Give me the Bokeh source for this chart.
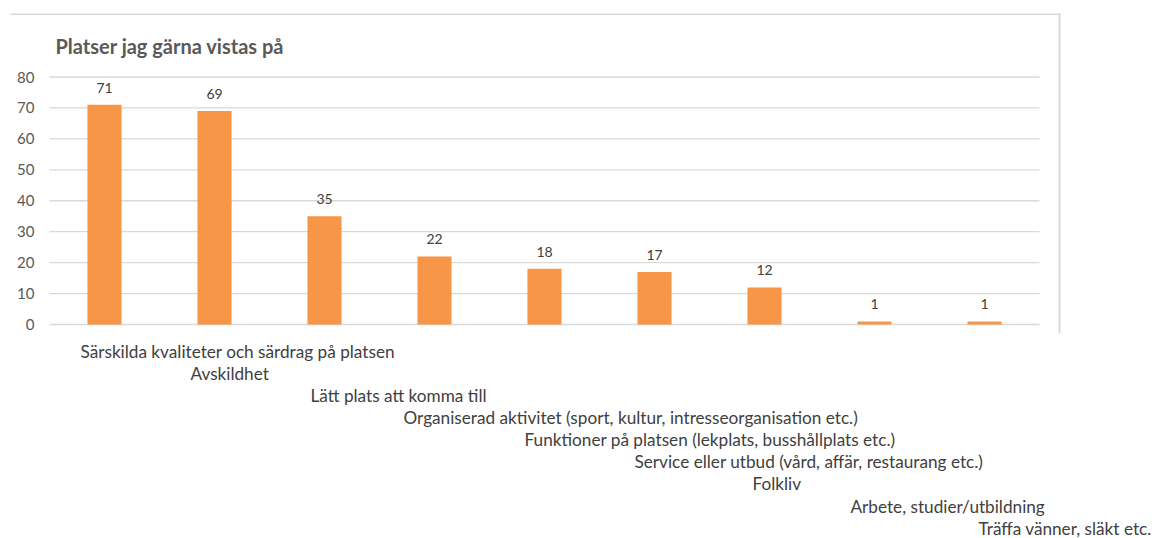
from bokeh.plotting import figure
from bokeh.models import ColumnDataSource, Label, BoxAnnotation, Range1d
from bokeh.core.properties import value
from bokeh.embed import file_html
from bokeh.resources import INLINE

# ---- data ----
categories = [
    "Särskilda kvaliteter och särdrag på platsen",
    "Avskildhet",
    "Lätt plats att komma till",
    "Organiserad aktivitet (sport, kultur, intresseorganisation etc.)",
    "Funktioner på platsen (lekplats, busshållplats etc.)",
    "Service eller utbud (vård, affär, restaurang etc.)",
    "Folkliv",
    "Arbete, studier/utbildning",
    "Träffa vänner, släkt etc.",
]
values = [71, 69, 35, 22, 18, 17, 12, 1, 1]
y_ticks = [0, 10, 20, 30, 40, 50, 60, 70, 80]
title_text = "Platser jag gärna vistas på"

# ---- layout (pixels) ----
W, H = 1159, 538
PLOT_LEFT, PLOT_RIGHT = 49, 1039      # plot area, page px
Y0_PX, Y80_PX = 324.0, 76.5           # page px of value 0 and 80
n = len(categories)
px_per_cat = (PLOT_RIGHT - PLOT_LEFT) / n
px_per_val = (Y0_PX - Y80_PX) / 80.0
first_center = PLOT_LEFT + px_per_cat / 2

x_start = -first_center / px_per_cat
x_end = (W - first_center) / px_per_cat
y_start = -(H - Y0_PX) / px_per_val
y_end = Y0_PX / px_per_val

# staggered category label offsets (px)
label_dx = [-24, -24, -14, -31, -20, -20, -12, -24, -6]
label_dy = [26.5 + 22.15 * i for i in range(n)]

BAR_COLOR = "#F79646"
GRID = "#d9d9d9"
TXT = "#404040"
AX = "#595959"
FONT = "Lato"

idx = list(range(n))
src = ColumnDataSource(dict(
    x=idx, val=values, val_txt=[str(v) for v in values],
    cat=categories, zero=[0] * n, dx=label_dx, dy=label_dy,
))
tick_src = ColumnDataSource(dict(
    y=y_ticks, txt=[str(t) for t in y_ticks],
    x0=[-0.5] * len(y_ticks), x1=[n - 0.5] * len(y_ticks),
))

p = figure(
    width=W, height=H,
    x_range=Range1d(x_start, x_end), y_range=Range1d(y_start, y_end),
    x_axis_location=None, y_axis_location=None,
    output_backend="svg", toolbar_location=None,
    min_border=0, min_border_left=0, min_border_right=0,
    min_border_top=0, min_border_bottom=0,
)
p.outline_line_color = None
p.grid.visible = False
p.background_fill_color = "white"
p.border_fill_color = "white"

# gridlines (value axis)
p.segment(x0="x0", x1="x1", y0="y", y1="y", source=tick_src,
          line_color=GRID, line_width=1.3)
# value-axis tick labels
p.text(x="x0", y="y", text="txt", source=tick_src,
       x_offset=-15, text_align="right", text_baseline="middle",
       text_font=value(FONT), text_font_size=value("15px"), text_color=AX)

# bars
p.vbar(x="x", top="val", width=0.31, source=src,
       fill_color=BAR_COLOR, line_color=None)

# data labels
p.text(x="x", y="val", text="val_txt", source=src,
       y_offset=-17, text_align="center", text_baseline="middle",
       text_font=value(FONT), text_font_size=value("14px"), text_color=TXT)

# staggered category labels
p.text(x="x", y="zero", text="cat", source=src,
       x_offset="dx", y_offset="dy",
       text_align="left", text_baseline="middle",
       text_font=value(FONT), text_font_size=value("17.2px"), text_color=TXT)

# title
p.add_layout(Label(
    x=55, y=H - 45, x_units="screen", y_units="screen",
    text=title_text, text_font=FONT, text_font_style="bold",
    text_font_size="20px", text_color=AX,
    text_align="left", text_baseline="middle",
))

# chart-area border (top and right edges)
p.add_layout(BoxAnnotation(
    left=10, right=1060, top=H - 13, bottom=H - 14.5,
    left_units="screen", right_units="screen",
    top_units="screen", bottom_units="screen",
    fill_color=GRID, fill_alpha=1, line_color=None, line_alpha=0,
))
p.add_layout(BoxAnnotation(
    left=1058, right=1060, top=H - 13, bottom=H - 333,
    left_units="screen", right_units="screen",
    top_units="screen", bottom_units="screen",
    fill_color=GRID, fill_alpha=1, line_color=None, line_alpha=0,
))

open("out.html", "w").write(file_html(p, INLINE))
